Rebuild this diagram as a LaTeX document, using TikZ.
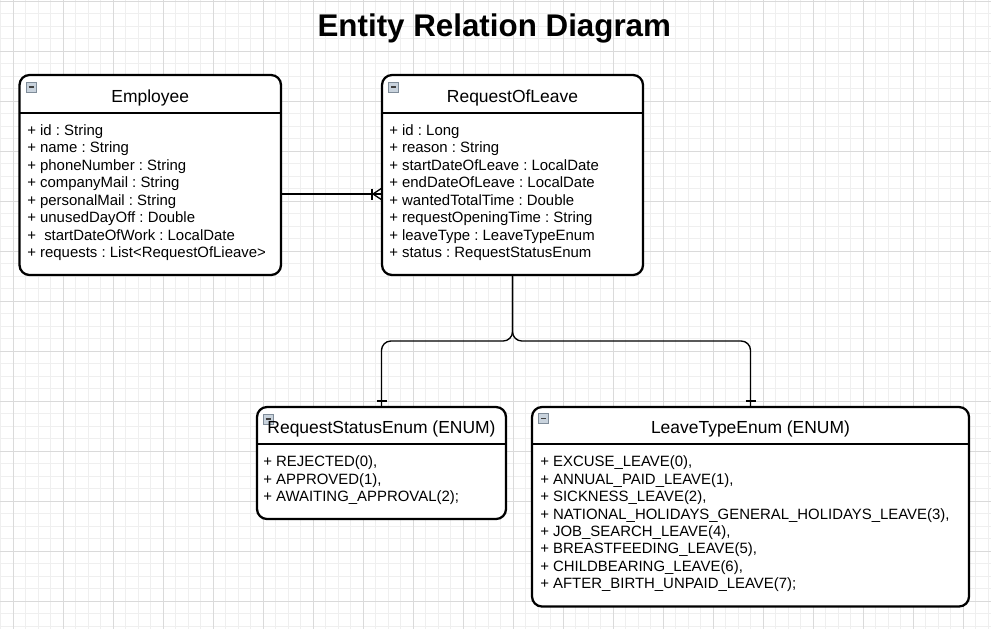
\documentclass[tikz,border=0pt]{standalone}
\usepackage{fontspec}
\setmainfont{Liberation Sans}
\usetikzlibrary{calc}
\definecolor{gridmajor}{HTML}{DADADA}
\definecolor{gridminor}{HTML}{EFEFEF}
\definecolor{iconfill}{HTML}{C9D3DD}
\definecolor{icondraw}{HTML}{7F8C99}
\tikzset{
  umlbox/.style={draw=black, line width=1.7pt, fill=white, rounded corners=7.5pt, inner sep=0pt, outer sep=0pt},
  sepline/.style={draw=black, line width=1.5pt},
  attr/.style={anchor=base west, inner sep=0pt, font=\frenchspacing\fontsize{11.2}{13}\selectfont},
  head/.style={anchor=base, inner sep=0pt, font=\fontsize{13.1}{15}\selectfont},
  conn/.style={draw=black, line width=1pt},
  minusicon/.pic={
    \draw[icondraw, fill=iconfill, line width=0.6pt] (0,0) rectangle (10,10);
    \draw[black!75, line width=1.1pt] (2.5,5) -- (7.5,5);
  }
}
\begin{document}
\begin{tikzpicture}[x=0.75pt,y=-0.75pt]
\useasboundingbox (0,0) rectangle (991,629);
\fill[white] (0,0) rectangle (991,629);
% grid
\foreach \gx in {0.8,13.3,...,991} \draw[gridminor, line width=0.75pt] (\gx,0) -- (\gx,629);
\foreach \gy in {1.3,13.8,...,629} \draw[gridminor, line width=0.75pt] (0,\gy) -- (991,\gy);
\foreach \gx in {13.3,63.3,...,991} \draw[gridmajor, line width=0.75pt] (\gx,0) -- (\gx,629);
\foreach \gy in {1.3,51.3,...,629} \draw[gridmajor, line width=0.75pt] (0,\gy) -- (991,\gy);

% title
\node[anchor=base, inner sep=0pt, font=\bfseries\fontsize{23.5}{27}\selectfont] (title) at (494.3,36) {Entity Relation Diagram};

% boxes
\node[umlbox, minimum width={261.5*0.75pt}, minimum height={200*0.75pt}] (emp) at (150.25,175) {};
\node[umlbox, minimum width={261*0.75pt}, minimum height={200*0.75pt}] (rol) at (512.5,175) {};
\node[umlbox, minimum width={249*0.75pt}, minimum height={112*0.75pt}] (rse) at (381.5,463) {};
\node[umlbox, minimum width={437*0.75pt}, minimum height={199.5*0.75pt}] (lte) at (750.5,506.75) {};

% separators
\draw[sepline] ($(emp.north west)+(0,38)$) -- ($(emp.north east)+(0,38)$);
\draw[sepline] ($(rol.north west)+(0,38)$) -- ($(rol.north east)+(0,38)$);
\draw[sepline] ($(rse.north west)+(0,37)$) -- ($(rse.north east)+(0,37)$);
\draw[sepline] ($(lte.north west)+(0,36.5)$) -- ($(lte.north east)+(0,36.5)$);

% icons
\pic at (26,82) {minusicon};
\pic at (388.5,82) {minusicon};
\pic at (263,414) {minusicon};
\pic at (538.5,413.5) {minusicon};

% headers
\node[head] (emp-h) at ($(emp.north)+(0,27)$) {Employee};
\node[head] (rol-h) at ($(rol.north)+(0,27)$) {RequestOfLeave};
\node[head] (rse-h) at ($(rse.north)+(0,26.5)$) {RequestStatusEnum (ENUM)};
\node[head] (lte-h) at ($(lte.north)+(0,26.5)$) {LeaveTypeEnum (ENUM)};

% attributes
\foreach \t [count=\i] in {{+ id : String},{+ name : String},{+ phoneNumber : String},{+ companyMail : String},{+ personalMail : String},{+ unusedDayOff : Double},{+\ \ startDateOfWork : LocalDate},{+ requests : List<RequestOfLieave>}}
  \node[attr] (emp-a\i) at (27,{135.5+17.43*(\i-1)}) {\t};
\foreach \t [count=\i] in {{+ id : Long},{+ reason : String},{+ startDateOfLeave : LocalDate},{+ endDateOfLeave : LocalDate},{+ wantedTotalTime : Double},{+ requestOpeningTime : String},{+ leaveType : LeaveTypeEnum},{+ status : RequestStatusEnum}}
  \node[attr] (rol-a\i) at (389,{135.5+17.43*(\i-1)}) {\t};
\foreach \t [count=\i] in {{+ REJECTED(0),},{+ APPROVED(1),},{+ AWAITING\_APPROVAL(2);}}
  \node[attr] (rse-a\i) at (263,{466.8+17.43*(\i-1)}) {\t};
\foreach \t [count=\i] in {{+ EXCUSE\_LEAVE(0),},{+ ANNUAL\_PAID\_LEAVE(1),},{+ SICKNESS\_LEAVE(2),},{+ NATIONAL\_HOLIDAYS\_GENERAL\_HOLIDAYS\_LEAVE(3),},{+ JOB\_SEARCH\_LEAVE(4),},{+ BREASTFEEDING\_LEAVE(5),},{+ CHILDBEARING\_LEAVE(6),},{+ AFTER\_BIRTH\_UNPAID\_LEAVE(7);}}
  \node[attr] (lte-a\i) at (540,{466.8+17.43*(\i-1)}) {\t};

% connector employee -> request of leave (one to many)
\coordinate (r194) at (0,194);
\coordinate (cf) at (rol.west |- r194);
\draw[conn] (emp.east |- r194) -- (cf);
\draw[conn] ($(cf)+(-10,-5.5)$) -- ($(cf)+(-10,5.5)$);
\draw[conn] ($(cf)+(0,-6)$) -- ($(cf)+(-9,0)$) -- ($(cf)+(0,6)$);

% connectors request of leave -> enums
\coordinate (bus) at (0,341);
\draw[conn, rounded corners=7pt] (rol.south) -- (rol.south |- bus) -| (rse.north);
\draw[conn, rounded corners=7pt] (rol.south) -- (rol.south |- bus) -| (lte.north);
\draw[conn] ($(rse.north)+(-5,-6)$) -- ($(rse.north)+(5,-6)$);
\draw[conn] ($(lte.north)+(-5,-6)$) -- ($(lte.north)+(5,-6)$);
\end{tikzpicture}
\end{document}
